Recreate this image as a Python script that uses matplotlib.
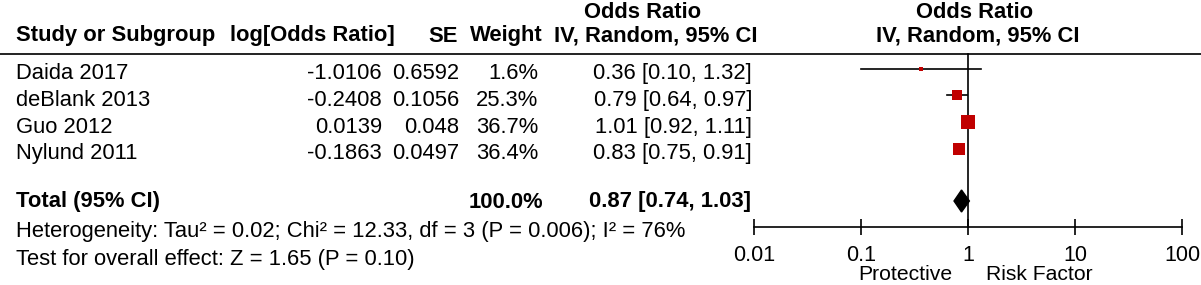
import matplotlib
matplotlib.use("Agg")
import matplotlib.pyplot as plt
import numpy as np

plt.rcParams['font.family'] = ['Liberation Sans', 'DejaVu Sans']

# ---- data ----
studies = ["Daida 2017", "deBlank 2013", "Guo 2012", "Nylund 2011"]
log_or = ["-1.0106", "-0.2408", "0.0139", "-0.1863"]
se = ["0.6592", "0.1056", "0.048", "0.0497"]
weights = [1.6, 25.3, 36.7, 36.4]
or_est = [0.36, 0.79, 1.01, 0.83]
or_lo = [0.10, 0.64, 0.92, 0.75]
or_hi = [1.32, 0.97, 1.11, 0.91]
total_est, total_lo, total_hi = 0.87, 0.74, 1.03
total_weight = "100.0%"
heterogeneity = "Heterogeneity: Tau² = 0.02; Chi² = 12.33, df = 3 (P = 0.006); I² = 76%"
overall = "Test for overall effect: Z = 1.65 (P = 0.10)"
xticks = [0.01, 0.1, 1, 10, 100]
xticklabels = ["0.01", "0.1", "1", "10", "100"]
left_label, right_label = "Protective", "Risk Factor"

# ---- layout ----
W, H = 1201, 285
fig = plt.figure(figsize=(W / 100, H / 100), dpi=100)
ax = fig.add_axes([0, 0, 1, 1])
ax.set_xlim(0, W)
ax.set_ylim(H, 0)
ax.axis('off')

fa = fig.add_axes([754 / W, 0, 428 / W, 1])
fa.set_xscale('log')
fa.set_xlim(0.01, 100)
fa.set_ylim(H, 0)
fa.patch.set_visible(False)
for s in ['top', 'left', 'right']:
    fa.spines[s].set_visible(False)
axis_y = 227
fa.spines['bottom'].set_position(('data', axis_y))
fa.spines['bottom'].set_linewidth(1.2)
fa.set_yticks([])
fa.set_xticks(xticks)
fa.set_xticklabels(xticklabels)
fa.minorticks_off()
fa.tick_params(axis='x', direction='inout', length=12, width=1.2, labelsize=15.5, pad=7)

FS = 15.8
red = '#C00000'
line_y = 54
row0, dy = 68.5, 26.8
rows_y = [row0 + i * dy for i in range(len(studies))]
text_off = 5
total_y = 201

# header
ax.plot([0, W], [line_y, line_y], color='#222222', lw=1.4)
hy2, hy1 = 36, 12
ax.text(16, hy2, "Study or Subgroup", fontsize=FS, fontweight='bold', va='center', ha='left')
ax.text(395, hy2, "log[Odds Ratio]", fontsize=FS, fontweight='bold', va='center', ha='right')
ax.text(458, hy2, "SE", fontsize=FS, fontweight='bold', va='center', ha='right')
ax.text(543, hy2, "Weight", fontsize=FS, fontweight='bold', va='center', ha='right')
ax.text(757, hy2, "IV, Random, 95% CI", fontsize=FS, fontweight='bold', va='center', ha='right')
ax.text(643, hy1, "Odds Ratio", fontsize=FS, fontweight='bold', va='center', ha='center')
ax.text(978, hy2, "IV, Random, 95% CI", fontsize=FS, fontweight='bold', va='center', ha='center')
ax.text(975, hy1, "Odds Ratio", fontsize=FS, fontweight='bold', va='center', ha='center')

# study rows
for i, name in enumerate(studies):
    ty = rows_y[i] + text_off
    ax.text(16, ty, name, fontsize=FS, va='center', ha='left')
    ax.text(382, ty, log_or[i], fontsize=FS, va='center', ha='right')
    ax.text(459, ty, se[i], fontsize=FS, va='center', ha='right')
    ax.text(538, ty, f"{weights[i]:.1f}%", fontsize=FS, va='center', ha='right')
    ax.text(752, ty, f"{or_est[i]:.2f} [{or_lo[i]:.2f}, {or_hi[i]:.2f}]",
            fontsize=FS, va='center', ha='right')

# total row
ax.text(16, total_y + 1, "Total (95% CI)", fontsize=FS, fontweight='bold', va='center', ha='left')
ax.text(543, total_y + 1, total_weight, fontsize=FS, fontweight='bold', va='center', ha='right')
ax.text(751, total_y + 1, f"{total_est:.2f} [{total_lo:.2f}, {total_hi:.2f}]",
        fontsize=FS, fontweight='bold', va='center', ha='right')
ax.text(16, 232, heterogeneity, fontsize=FS, va='center', ha='left')
ax.text(16, 259, overall, fontsize=FS, va='center', ha='left')

# forest plot
fa.plot([1, 1], [line_y, axis_y], color='black', lw=1.2)
for i in range(len(studies)):
    y = rows_y[i]
    fa.plot([or_lo[i], or_hi[i]], [y, y], color='black', lw=1.2, zorder=2)
    side_px = max(3.5, 2.15 * np.sqrt(weights[i]))
    fa.plot([or_est[i]], [y], marker='s', linestyle='none', color=red,
            markersize=side_px * 0.72, markeredgewidth=0, zorder=3)
dh = 11
fa.fill([total_lo, total_est, total_hi, total_est],
        [total_y, total_y - dh, total_y, total_y + dh], color='black', zorder=3)

fa.annotate(left_label, xy=(1, 274), xycoords='data', xytext=(-16, 0),
            textcoords='offset pixels', ha='right', va='center', fontsize=15.2)
fa.annotate(right_label, xy=(1, 274), xycoords='data', xytext=(18, 0),
            textcoords='offset pixels', ha='left', va='center', fontsize=15.2)

fig.savefig("out.png", dpi=100)
